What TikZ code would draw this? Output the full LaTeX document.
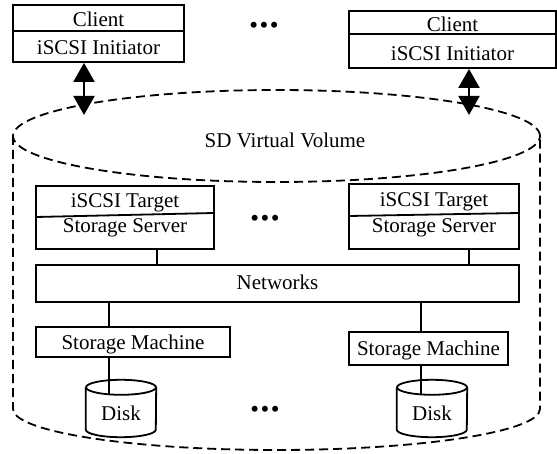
\documentclass[tikz,border=0pt]{standalone}
\usepackage{fontspec}
\setmainfont{Liberation Serif}
\usetikzlibrary{arrows.meta}
\begin{document}
\begin{tikzpicture}[x=1pt,y=1pt,
  every node/.style={font=\fontsize{21}{25}\selectfont},
  box/.style={draw, line width=1.8pt, inner sep=0pt},
  lbl/.style={inner sep=0pt, anchor=base},
  link/.style={line width=1.8pt},
  vol/.style={line width=1.8pt, dash pattern=on 9pt off 5pt},
  dbl/.style={line width=2pt, {Triangle[width=21pt,length=19pt]}-{Triangle[width=21pt,length=19pt]}},
  dotsep/.style={inner sep=0pt, font=\fontsize{25}{25}\selectfont}
]
\useasboundingbox (0,0) rectangle (557,-454);

% virtual volume drawn as a dashed cylinder
\draw[vol] (276.5,-136) ellipse [x radius=263.5, y radius=46];
\draw[vol] (13,-136) -- (13,-409) arc[start angle=180, end angle=360, x radius=263.5, y radius=41] -- (540,-136);
\node[lbl] (sdv) at (285,-148) {SD Virtual Volume};

% clients
\node[box, minimum width=171, minimum height=57] (c1) at (98.5,-33.5) {};
\draw[link] (13,-31) -- (184,-31);
\node[lbl] (c1a) at (98.5,-27) {Client};
\node[lbl] (c1b) at (98.5,-55) {iSCSI Initiator};

\node[box, minimum width=207, minimum height=57] (c2) at (452.5,-39.5) {};
\draw[link] (349,-34) -- (556,-34);
\node[lbl] (c2a) at (452.5,-32) {Client};
\node[lbl] (c2b) at (452.5,-61) {iSCSI Initiator};

\node[dotsep] (dtop) at (264,-28) {\textbullet\hspace{1.5pt}\textbullet\hspace{1.5pt}\textbullet};

% links between initiators and the volume
\coordinate (a1) at (84,-115);
\coordinate (a2) at (469,-115);
\draw[dbl] (a1 |- c1.south) -- (a1);
\draw[dbl] (a2 |- c2.south) -- (a2);

% storage servers
\node[box, minimum width=178, minimum height=63] (t1) at (125,-217.5) {};
\draw[link] (36,-217) -- (214,-213);
\node[lbl] (t1a) at (125,-208) {iSCSI Target};
\node[lbl] (t1b) at (125,-233) {Storage Server};

\node[box, minimum width=170, minimum height=65] (t2) at (434,-216.5) {};
\draw[link] (349,-216) -- (519,-213);
\node[lbl] (t2a) at (434,-207) {iSCSI Target};
\node[lbl] (t2b) at (434,-233) {Storage Server};

\node[dotsep] (dmid) at (265,-221) {\textbullet\hspace{1.5pt}\textbullet\hspace{1.5pt}\textbullet};

% network
\node[box, minimum width=483, minimum height=37] (net) at (277.5,-283.5) {};
\node[lbl] (nett) at (277.5,-290) {Networks};

% storage machines
\node[box, minimum width=194, minimum height=30] (sm1) at (133,-342) {};
\node[lbl] (sm1t) at (133,-349) {Storage Machine};
\node[box, minimum width=159, minimum height=33] (sm2) at (428.5,-348.5) {};
\node[lbl] (sm2t) at (428.5,-355.5) {Storage Machine};

% disks
\node[inner sep=0pt, minimum width=70, minimum height=57] (d1) at (121,-408.5) {};
\node[inner sep=0pt, minimum width=70, minimum height=57] (d2) at (432,-408.5) {};
\foreach \d in {d1,d2}{
  \draw[link] ([yshift=-7.5pt]\d.north west) -- ([yshift=7.5pt]\d.south west)
    arc[start angle=180, end angle=360, x radius=35, y radius=7.5]
    -- ([yshift=-7.5pt]\d.north east);
  \draw[link] ([yshift=-7.5pt]\d.north) ellipse [x radius=35, y radius=7.5];
}
\node[lbl] (d1t) at (121,-420) {Disk};
\node[lbl] (d2t) at (432,-420) {Disk};

\node[dotsep] (dbot) at (265,-412) {\textbullet\hspace{1.5pt}\textbullet\hspace{1.5pt}\textbullet};

% connectors
\coordinate (j1) at (157,0);
\coordinate (j2) at (469,0);
\coordinate (j3) at (109,0);
\coordinate (j4) at (421,0);
\draw[link] (j1 |- t1.south) -- (j1 |- net.north);
\draw[link] (j2 |- t2.south) -- (j2 |- net.north);
\draw[link] (j3 |- net.south) -- (j3 |- sm1.north);
\draw[link] (j4 |- net.south) -- (j4 |- sm2.north);
\draw[link] (j3 |- sm1.south) -- ([yshift=-15pt]j3 |- d1.north);
\draw[link] (j4 |- sm2.south) -- ([yshift=-15pt]j4 |- d2.north);
\end{tikzpicture}
\end{document}
